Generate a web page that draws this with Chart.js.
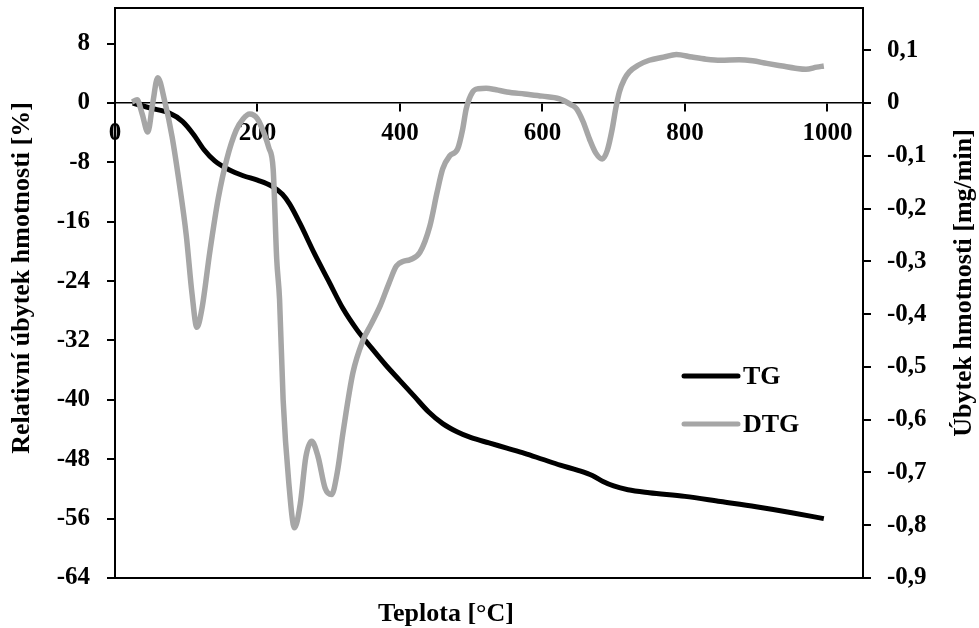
<!DOCTYPE html>
<html lang="cs">
<head>
  <meta charset="UTF-8">
  <title>TG / DTG</title>
  <script src="https://cdn.jsdelivr.net/npm/chart.js"></script>
  <style>
    html, body { margin: 0; padding: 0; background: #fff; }
    #tgChart { display: block; }
  </style>
</head>
<body>
  <canvas id="tgChart" width="979" height="628"></canvas>
  <script>
    // TG: relativni ubytek hmotnosti [%]
    const tgTemp = [25, 50, 75, 95, 110, 125, 140, 160, 180, 200, 220, 235, 245, 260, 280, 300, 320, 340, 360, 380, 400,
      420, 440, 460, 480, 500, 525, 550, 575, 600, 625, 650, 670, 685, 700, 720, 750, 800, 850, 900, 950, 995];
    const tgMass = [0, -0.7, -1.3, -2.5, -4.2, -6.3, -7.8, -9.0, -9.8, -10.4, -11.2, -12.3, -13.6, -16.3, -20.3, -24.0, -27.7,
      -30.6, -33.0, -35.3, -37.4, -39.5, -41.6, -43.2, -44.3, -45.1, -45.8, -46.5, -47.2, -48.0, -48.8, -49.5, -50.2, -51.0,
      -51.6, -52.1, -52.5, -53.0, -53.7, -54.4, -55.2, -56.0];

    // DTG: ubytek hmotnosti [mg/min]
    const dtgTemp = [24, 31, 38, 46, 53, 60, 70, 80, 90, 100, 108, 115, 122, 133, 145, 157, 170, 180, 189, 200,
      210, 216, 222, 227, 231, 236, 244, 252, 260, 268, 276, 285, 295, 304, 312, 320, 334, 348, 360, 372,
      385, 395, 405, 414, 428, 442, 452, 460, 470, 481, 488, 493, 502, 510, 521, 535, 550, 575, 600, 624,
      640, 648, 657, 666, 675, 684, 691, 698, 703, 708, 715, 722, 735, 750, 770, 788, 810, 830, 850, 876,
      895, 915, 937, 955, 970, 985, 995];
    const dtgRate = [0.002, 0.006, -0.02, -0.055, 0.0, 0.048, 0.002, -0.063, -0.15, -0.25, -0.36, -0.425, -0.39, -0.283,
      -0.18, -0.106, -0.052, -0.03, -0.021, -0.03, -0.06, -0.085, -0.125, -0.296, -0.372, -0.562, -0.72, -0.805, -0.76,
      -0.67, -0.641, -0.67, -0.73, -0.742, -0.7, -0.625, -0.511, -0.45, -0.418, -0.385, -0.34, -0.309, -0.3, -0.297,
      -0.283, -0.233, -0.17, -0.125, -0.1, -0.087, -0.05, -0.011, 0.021, 0.027, 0.028, 0.025, 0.021, 0.017, 0.013,
      0.008, -0.003, -0.011, -0.035, -0.068, -0.095, -0.106, -0.09, -0.049, -0.01, 0.021, 0.045, 0.059, 0.072, 0.081,
      0.087, 0.092, 0.087, 0.083, 0.081, 0.082, 0.08, 0.075, 0.07, 0.066, 0.064, 0.068, 0.07];

    const xTicks = [0, 200, 400, 600, 800, 1000];
    const leftTicks = [-64, -56, -48, -40, -32, -24, -16, -8, 0, 8];
    const rightTicks = [-0.9, -0.8, -0.7, -0.6, -0.5, -0.4, -0.3, -0.2, -0.1, 0, 0.1];

    const xTitle = 'Teplota [°C]';
    const leftTitle = 'Relativní úbytek hmotnosti [%]';
    const rightTitle = 'Úbytek hmotnosti [mg/min]';

    const FONT = '"Liberation Serif", "Times New Roman", serif';
    const tickFont = { family: FONT, size: 25, weight: 'bold' };

    const toPoints = (xs, ys) => xs.map((x, i) => ({ x: x, y: ys[i] }));
    const fixedTicks = vals => scale => { scale.ticks = vals.map(v => ({ value: v })); };
    // pevna sirka osy, bez pridavneho odsazeni od popisku
    const fixedWidth = w => s => { s.width = w; s.paddingTop = 0; s.paddingBottom = 0; };

    // ramecek, nazvy os a legenda uvnitr grafu
    const decorations = {
      id: 'decorations',
      afterDraw(chart) {
        const { ctx, chartArea: a } = chart;
        ctx.save();
        ctx.strokeStyle = '#000';
        ctx.lineWidth = 2;
        ctx.strokeRect(a.left, a.top, a.right - a.left, a.bottom - a.top);

        ctx.fillStyle = '#000';
        ctx.font = 'bold 26px ' + FONT;
        ctx.textAlign = 'center';
        ctx.textBaseline = 'middle';

        ctx.save();
        ctx.translate(22, a.top + 270);
        ctx.rotate(-Math.PI / 2);
        ctx.fillText(leftTitle, 0, 0);
        ctx.restore();

        ctx.save();
        ctx.translate(964, a.top + 275);
        ctx.rotate(-Math.PI / 2);
        ctx.fillText(rightTitle, 0, 0);
        ctx.restore();

        ctx.textBaseline = 'alphabetic';
        ctx.fillText(xTitle, 446, 621);

        // legenda
        ctx.textAlign = 'left';
        ctx.textBaseline = 'middle';
        ctx.lineCap = 'round';
        chart.data.datasets.forEach((ds, i) => {
          const y = a.top + 368 + i * 48;
          const x0 = a.right - 179;
          ctx.strokeStyle = ds.borderColor;
          ctx.lineWidth = 5;
          ctx.beginPath();
          ctx.moveTo(x0, y);
          ctx.lineTo(x0 + 54, y);
          ctx.stroke();
          ctx.fillText(ds.label, x0 + 59, y + 1);
        });
        ctx.restore();
      }
    };

    new Chart(document.getElementById('tgChart'), {
      type: 'line',
      data: {
        datasets: [
          {
            label: 'TG',
            data: toPoints(tgTemp, tgMass),
            borderColor: '#000000',
            borderWidth: 5,
            pointRadius: 0,
            cubicInterpolationMode: 'monotone',
            xAxisID: 'x',
            yAxisID: 'y',
            order: 1
          },
          {
            label: 'DTG',
            data: toPoints(dtgTemp, dtgRate),
            borderColor: '#a6a6a6',
            borderWidth: 5.5,
            pointRadius: 0,
            cubicInterpolationMode: 'monotone',
            xAxisID: 'x',
            yAxisID: 'y2',
            order: 0
          }
        ]
      },
      options: {
        responsive: false,
        animation: false,
        layout: { padding: { top: 8, left: 0, right: 0, bottom: 0 } },
        plugins: {
          legend: { display: false },
          tooltip: { enabled: false }
        },
        scales: {
          x: {
            type: 'linear',
            position: 'bottom',
            min: 0,
            max: 1050,
            ticks: { display: false },
            grid: { display: false },
            border: { display: false },
            afterFit: s => { s.height = 50; s.paddingLeft = 0; s.paddingRight = 0; }
          },
          xZero: {
            type: 'linear',
            axis: 'x',
            position: { y: 0 },
            min: 0,
            max: 1050,
            afterBuildTicks: fixedTicks(xTicks),
            ticks: { font: tickFont, color: '#000', padding: 8, maxRotation: 0, callback: v => String(v) },
            grid: { drawOnChartArea: false, tickLength: 8, color: '#000', lineWidth: 2 },
            border: { display: true, color: '#000', width: 1.5 }
          },
          y: {
            position: 'left',
            min: -64,
            max: 12.8,
            afterBuildTicks: fixedTicks(leftTicks),
            ticks: { font: tickFont, color: '#000', padding: 17, callback: v => String(v) },
            grid: { drawOnChartArea: false, tickLength: 8, color: '#000', lineWidth: 2 },
            border: { display: false },
            afterFit: fixedWidth(115)
          },
          y2: {
            position: 'right',
            min: -0.9,
            max: 0.18,
            afterBuildTicks: fixedTicks(rightTicks),
            ticks: {
              font: tickFont, color: '#000', padding: 16,
              callback: v => Math.abs(v) < 1e-9 ? '0' : v.toFixed(1).replace('.', ',')
            },
            grid: { drawOnChartArea: false, tickLength: 8, color: '#000', lineWidth: 2 },
            border: { display: false },
            afterFit: fixedWidth(116)
          }
        }
      },
      plugins: [decorations]
    });
  </script>
</body>
</html>
